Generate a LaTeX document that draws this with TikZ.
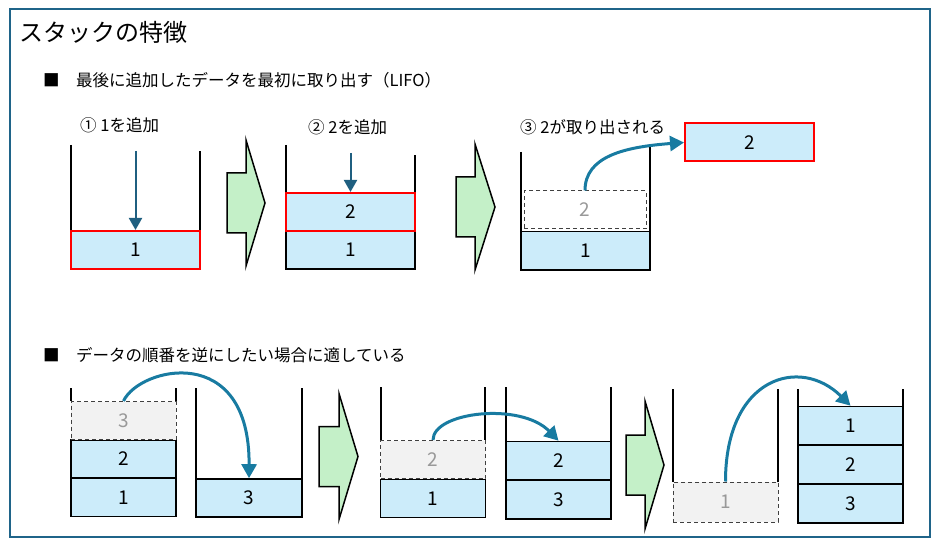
\documentclass[tikz,border=0pt]{standalone}
\usepackage{fontspec}
\setmainfont{Noto Sans CJK JP}
\usetikzlibrary{arrows.meta}

\definecolor{framecol}{HTML}{1F6489}
\definecolor{cellblue}{HTML}{CCECFA}
\definecolor{ghostgray}{HTML}{F2F2F2}
\definecolor{ghosttext}{HTML}{999999}
\definecolor{arrowgreen}{HTML}{C4F0C8}
\definecolor{pushblue}{HTML}{1F5F80}
\definecolor{moveblue}{HTML}{187BA1}

\begin{document}
\begin{tikzpicture}[x=1pt, y=1pt,
    wall/.style={line width=2.3pt},
    bigarrow/.style={fill=arrowgreen, draw, line width=1.5pt, line join=miter},
    push/.style={-{Triangle[width=13pt,length=12pt]}, line width=2pt, draw=pushblue},
    move/.style={-{Triangle[width=15pt,length=14pt]}, line width=3pt, draw=moveblue},
    cell/.style={rectangle, draw, line width=1.6pt, fill=cellblue, inner sep=0pt,
        minimum height=38pt, font=\fontsize{19}{22}\selectfont},
    newcell/.style={cell, draw=red, line width=2pt},
    ghostcell/.style={cell, draw=black!75, line width=1pt, dash pattern=on 4pt off 3pt,
        fill=ghostgray, text=ghosttext}]
    \useasboundingbox (0,0) rectangle (938,542);
    \draw[framecol, line width=2pt] (10,5) rectangle (930,533);

    % headings
    \begin{scope}[every node/.style={anchor=west, inner sep=0pt, font=\fontsize{16.5}{20}\selectfont}]
        \node[font=\fontsize{24}{28}\selectfont] (title) at (19,510) {スタックの特徴};
        \node (lifo) at (43,462) {■　最後に追加したデータを最初に取り出す（LIFO）};
        \node (reverse) at (43,187) {■　データの順番を逆にしたい場合に適している};
        \node (step1) at (80,417) {① 1を追加};
        \node (step2) at (308,415) {② 2を追加};
        \node (step3) at (520,415) {③ 2が取り出される};
    \end{scope}

    % LIFO: walls
    \draw[wall] (71,397) |- (200,273) -- (200,391);
    \draw[wall] (286,397) |- (415,273) -- (415,387);
    \draw[wall] (521,390) |- (650,272) -- (650,395);

    % LIFO: cells
    \begin{scope}[every node/.style={minimum width=129pt}]
        \node[newcell] (P1) at (135.5,292) {1};
        \node[cell] (Q1) at (350.5,292) {1};
        \node[newcell] (Q2) at (350.5,330) {2};
        \node[cell] (R1) at (585.5,291.5) {1};
        \node[ghostcell, fill=none, minimum width=122pt] (R2) at (585,332) {2};
        \node[newcell] (out2) at (749.5,399.5) {2};
    \end{scope}

    \coordinate (in1) at ([yshift=79pt]P1.north);
    \coordinate (in2) at ([yshift=39pt]Q2.north);
    \draw[push] (in1) -- (P1.north);
    \draw[push] (in2) -- (Q2.north);
    \draw[move] (R2.north) .. controls +(0,34) and +(-60,-4.5) .. (out2.west);

    % big green arrows
    \draw[bigarrow, shift={(227,339)}] (0,-30) -- (19,-30) -- (19,-63) -- (38,0) -- (19,63) -- (19,30) -- (0,30) -- cycle;
    \draw[bigarrow, shift={(456,335)}] (0,-30) -- (19,-30) -- (19,-63) -- (39,0) -- (19,63) -- (19,30) -- (0,30) -- cycle;
    \draw[bigarrow, shift={(319,85.5)}] (0,-30) -- (20,-30) -- (20,-63) -- (39,0) -- (20,63) -- (20,30) -- (0,30) -- cycle;
    \draw[bigarrow, shift={(626,77)}] (0,-30) -- (19,-30) -- (19,-64) -- (38,0) -- (19,64) -- (19,30) -- (0,30) -- cycle;

    % reverse: walls
    \draw[wall] (71,154) -- (71,141);
    \draw[wall] (176,141) -- (176,154);
    \draw[wall] (196,154) |- (302,25) -- (302,154);
    \draw[wall] (381,155) -- (381,102);
    \draw[wall] (485,102) -- (485,155);
    \draw[wall] (506,155) |- (611,23) -- (611,155);
    \draw[wall] (673,153) -- (673,60);
    \draw[wall] (778,60) -- (778,153);
    \draw[wall] (798,153) |- (903,19) -- (903,153);

    % reverse: cells
    \begin{scope}[every node/.style={minimum width=105pt}]
        \node[cell] (A1) at (123.5,44.5) {1};
        \node[cell] (A2) at (123.5,83) {2};
        \node[ghostcell] (A3) at (123.5,121.5) {3};
        \node[cell] (B3) at (249,44) {3};
        \node[cell] (C1) at (433,43.5) {1};
        \node[ghostcell] (C2) at (433,82.5) {2};
        \node[cell] (D3) at (558.5,42.5) {3};
        \node[cell] (D2) at (558.5,81.5) {2};
        \node[ghostcell, minimum height=40pt] (E1) at (725.5,40) {1};
        \node[cell] (F3) at (850.5,38.5) {3};
        \node[cell] (F2) at (850.5,77.5) {2};
        \node[cell] (F1) at (850.5,116.5) {1};
    \end{scope}

    \draw[move] (A3.north) .. controls +(16,34) and +(1,137) .. (B3.north);
    \draw[move] (C2.north) .. controls +(0,28) and +(-38,39) .. (D2.north);
    \draw[move] (E1.north) .. controls +(0,105) and +(-50,50) .. (F1.north);
\end{tikzpicture}
\end{document}
